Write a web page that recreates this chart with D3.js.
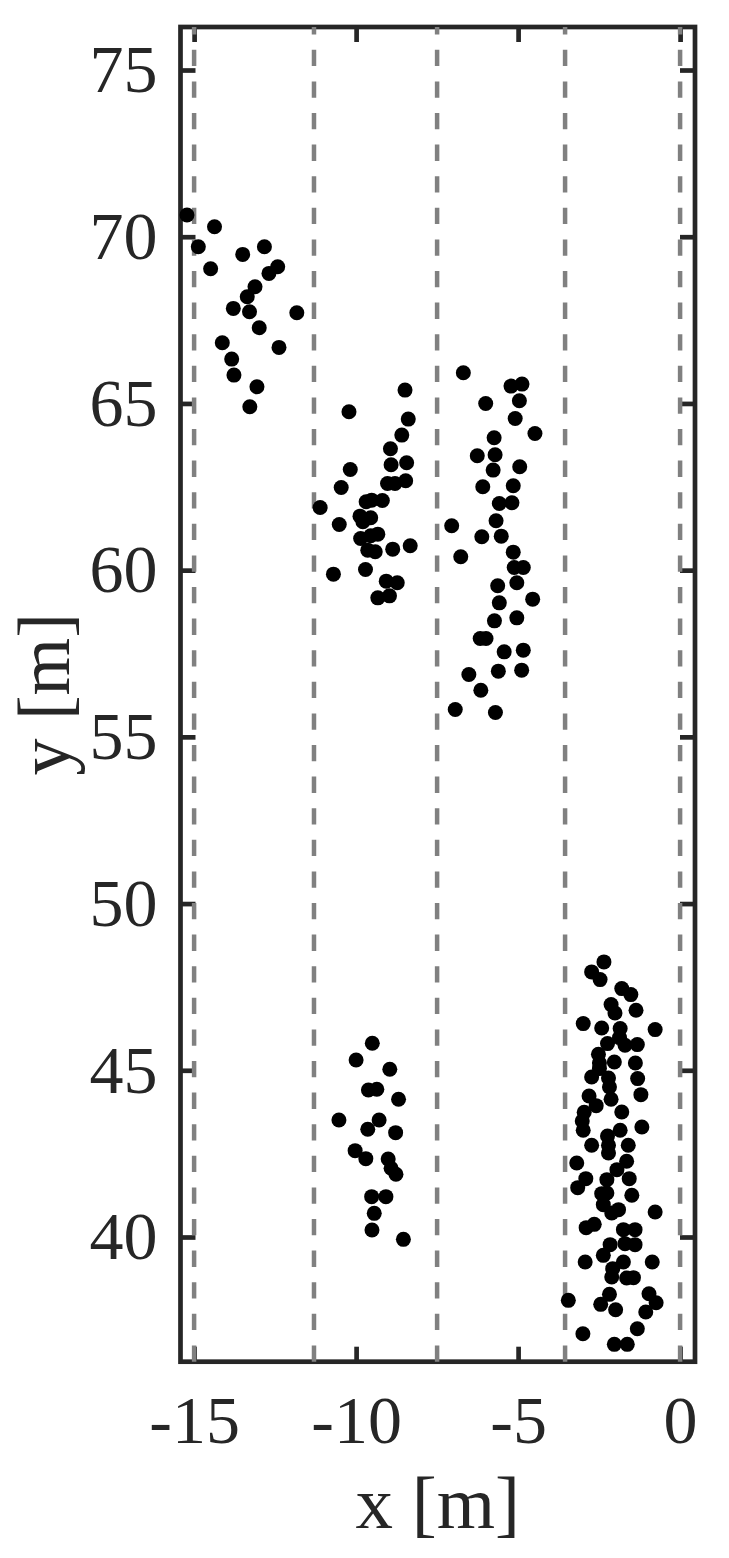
<!DOCTYPE html>
<html>
<head>
<meta charset="utf-8">
<script src="https://cdn.jsdelivr.net/npm/d3@7"></script>
<style>
  body { margin: 0; background: #fff; }
  svg { display: block; }
</style>
</head>
<body>
<div id="chart"></div>
<script>
// lane boundaries (dashed), ticks
var laneLines = [-15, -11.3, -7.5, -3.55, 0];
var xTicks = [-15, -10, -5, 0];
var yTicks = [40, 45, 50, 55, 60, 65, 70, 75];

// point clusters, [x, y] in metres
var groupA = [[-15.22,70.65],[-14.37,70.30],[-14.87,69.70],[-12.83,69.70],[-13.50,69.47],[-14.49,69.04],
  [-12.42,69.10],[-12.69,68.90],[-13.12,68.50],[-13.36,68.20],[-13.79,67.85],[-13.29,67.75],[-11.83,67.72],
  [-12.99,67.27],[-14.13,66.82],[-12.38,66.68],[-13.84,66.33],[-13.77,65.85],[-13.06,65.50],[-13.28,64.90]];

var groupB = [[-8.49,65.40],[-10.22,64.75],[-8.39,64.53],[-8.59,64.05],[-8.94,63.64],[-8.92,63.16],[-8.44,63.22],
  [-10.18,63.02],[-10.46,62.48],[-9.03,62.60],[-8.80,62.60],[-8.47,62.68],[-11.11,61.88],[-9.69,62.05],
  [-9.52,62.10],[-9.19,62.09],[-10.52,61.37],[-9.88,61.62],[-9.55,61.57],[-9.79,61.45],[-9.33,61.08],
  [-9.55,61.03],[-9.86,60.95],[-9.64,60.60],[-9.41,60.55],[-8.87,60.63],[-8.33,60.73],[-10.70,59.88],
  [-9.71,60.02],[-9.07,59.67],[-8.73,59.62],[-9.33,59.17],[-8.97,59.23]];

var groupC = [[-6.69,65.92],[-5.22,65.52],[-4.88,65.58],[-6.00,65.00],[-4.96,65.08],[-5.09,64.55],[-4.48,64.10],
  [-5.74,63.97],[-6.26,63.43],[-5.71,63.46],[-5.77,63.00],[-4.95,63.10],[-6.09,62.50],[-5.15,62.53],
  [-5.58,62.00],[-5.19,62.02],[-5.68,61.48],[-7.05,61.33],[-6.12,61.00],[-5.52,61.02],[-5.15,60.54],
  [-6.77,60.40],[-5.12,60.08],[-4.84,60.08],[-5.63,59.53],[-5.04,59.62],[-5.58,59.02],[-4.55,59.13],
  [-5.73,58.48],[-5.04,58.57],[-6.17,57.95],[-5.99,57.95],[-5.43,57.55],[-4.84,57.60],[-6.52,56.87],
  [-5.61,56.97],[-4.89,57.00],[-6.15,56.40],[-6.94,55.82],[-5.70,55.73]];

var groupD = [[-9.50,45.81],[-10.00,45.31],[-8.96,45.03],[-9.62,44.41],[-9.36,44.43],[-8.69,44.13],[-10.53,43.51],
  [-9.29,43.51],[-9.64,43.23],[-8.78,43.13],[-10.03,42.59],[-9.70,42.35],[-9.01,42.34],[-8.92,42.06],
  [-8.77,41.88],[-9.52,41.21],[-9.08,41.21],[-9.44,40.71],[-9.51,40.21],[-8.54,39.93]];

var groupE = [[-2.35,48.25],[-2.73,47.95],[-2.47,47.72],[-1.80,47.45],[-1.52,47.27],[-2.13,46.97],[-2.01,46.72],
  [-1.36,46.80],[-2.99,46.40],[-2.42,46.27],[-1.85,46.25],[-0.77,46.22],[-1.87,45.98],[-2.24,45.80],
  [-1.70,45.75],[-1.32,45.77],[-2.52,45.48],[-2.49,45.22],[-2.03,45.25],[-1.38,45.22],[-2.49,45.05],
  [-2.73,44.80],[-2.21,44.77],[-1.31,44.75],[-2.18,44.50],[-2.81,44.23],[-2.13,44.13],[-1.21,44.27],
  [-2.59,43.94],[-2.96,43.74],[-1.80,43.75],[-3.02,43.48],[-2.99,43.20],[-1.85,43.20],[-1.18,43.30],
  [-2.24,43.03],[-2.73,42.75],[-2.21,42.75],[-1.60,42.75],[-2.21,42.52],[-3.19,42.22],[-1.65,42.27],
  [-1.95,42.02],[-2.91,41.75],[-3.16,41.48],[-2.26,41.72],[-1.57,41.75],[-2.42,41.30],[-2.26,41.32],
  [-1.49,41.25],[-2.37,40.97],[-2.11,40.72],[-1.90,40.82],[-0.77,40.75],[-2.90,40.28],[-2.65,40.38],
  [-1.75,40.22],[-1.39,40.22],[-1.70,39.80],[-1.39,39.77],[-2.16,39.77],[-2.37,39.45],[-2.93,39.25],
  [-1.75,39.25],[-0.86,39.25],[-2.08,39.05],[-2.11,38.80],[-1.65,38.77],[-1.44,38.78],[-2.18,38.28],
  [-3.45,38.10],[-2.45,37.98],[-1.99,37.82],[-0.96,38.30],[-0.74,38.03],[-1.06,37.75],[-1.32,37.25],
  [-3.00,37.10],[-2.03,36.78],[-1.63,36.78]];

var points = groupA.concat(groupB, groupC, groupD, groupE);

var W = 729, H = 1558;
var axisColor = "#262626";
var fontFam = "'Liberation Serif', 'Times New Roman', serif";

var svg = d3.select("#chart").append("svg")
  .attr("width", W).attr("height", H);
svg.append("rect").attr("width", W).attr("height", H).attr("fill", "#fff");

var x = d3.scaleLinear().domain([-15.42, 0.46]).range([180.5, 695]);
var y = d3.scaleLinear().domain([36.26, 76.29]).range([1361.7, 27]);

var pLeft = x.range()[0], pRight = x.range()[1];
var pTop = y.range()[1], pBottom = y.range()[0];

function styleAxis(g) {
  g.select(".domain").remove();
  g.selectAll(".tick line").attr("stroke", axisColor).attr("stroke-width", 4.7);
  g.selectAll(".tick text")
    .attr("fill", axisColor)
    .style("font-family", fontFam)
    .style("font-size", "68px");
}

// bottom + top
svg.append("g")
  .attr("transform", "translate(0," + pBottom + ")")
  .call(d3.axisBottom(x).tickValues(xTicks).tickSize(-15).tickPadding(33).tickFormat(d3.format("d")))
  .call(styleAxis);
svg.append("g")
  .attr("transform", "translate(0," + pTop + ")")
  .call(d3.axisTop(x).tickValues(xTicks).tickSize(-15).tickFormat(""))
  .call(styleAxis);

// left + right
svg.append("g")
  .attr("transform", "translate(" + pLeft + ",0)")
  .call(d3.axisLeft(y).tickValues(yTicks).tickSize(-15).tickPadding(23))
  .call(styleAxis);
svg.append("g")
  .attr("transform", "translate(" + pRight + ",0)")
  .call(d3.axisRight(y).tickValues(yTicks).tickSize(-15).tickFormat(""))
  .call(styleAxis);

// hyphen instead of unicode minus, like the original
svg.selectAll(".tick text").text(function() { return this.textContent.replace("\u2212", "-"); });

// box
svg.append("rect")
  .attr("x", pLeft).attr("y", pTop)
  .attr("width", pRight - pLeft).attr("height", pBottom - pTop)
  .attr("fill", "none")
  .attr("stroke", axisColor)
  .attr("stroke-width", 4.7);

// lane lines, drawn bottom-up
svg.append("g").selectAll("line")
  .data(laneLines)
  .enter().append("line")
  .attr("x1", function(d) { return x(d); })
  .attr("x2", function(d) { return x(d); })
  .attr("y1", pBottom)
  .attr("y2", pTop)
  .attr("stroke", "#808080")
  .attr("stroke-width", 4.5)
  .attr("stroke-dasharray", "16.3,15.3");

// points
svg.append("g").selectAll("circle")
  .data(points)
  .enter().append("circle")
  .attr("cx", function(d) { return x(d[0]); })
  .attr("cy", function(d) { return y(d[1]); })
  .attr("r", 7.5)
  .attr("fill", "#000");

// axis labels
svg.append("text")
  .attr("x", (pLeft + pRight) / 2)
  .attr("y", 1528)
  .attr("text-anchor", "middle")
  .attr("fill", axisColor)
  .style("font-family", fontFam)
  .style("font-size", "75px")
  .text("x [m]");

svg.append("text")
  .attr("transform", "translate(69," + ((pTop + pBottom) / 2) + ") rotate(-90)")
  .attr("text-anchor", "middle")
  .attr("fill", axisColor)
  .style("font-family", fontFam)
  .style("font-size", "74px")
  .text("y [m]");
</script>
</body>
</html>
